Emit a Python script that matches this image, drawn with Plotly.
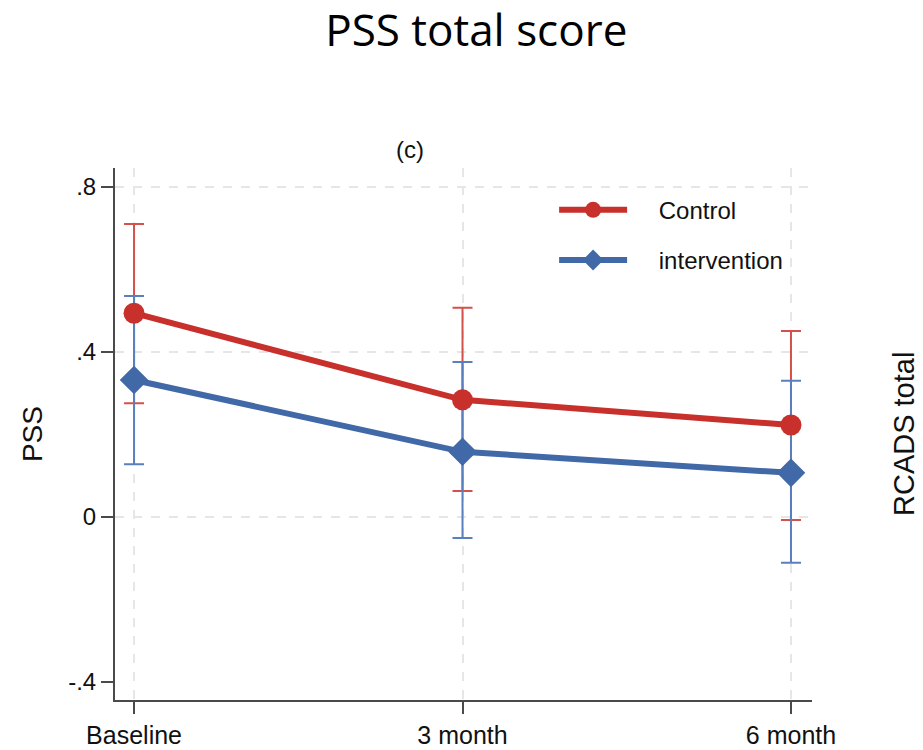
import plotly.graph_objects as go

# ---- data ----
timepoints = ["Baseline", "3 month", "6 month"]
control_mean = [0.494, 0.284, 0.223]
control_lo = [0.276, 0.063, -0.007]
control_hi = [0.710, 0.507, 0.451]
interv_mean = [0.332, 0.158, 0.107]
interv_lo = [0.128, -0.051, -0.111]
interv_hi = [0.536, 0.376, 0.330]
ytick_vals = [-0.4, 0, 0.4, 0.8]
ytick_text = ["-.4", "0", ".4", ".8"]
series_names = ["Control", "intervention"]

RED = "#c8302c"
RED_EB = "#d4504b"
BLUE = "#4169a8"
BLUE_EB = "#5a7fbe"
FONT = "Liberation Sans, Arial, sans-serif"
PAD = "\u00a0" * 4

def plus(hi, m):
    return [h - v for h, v in zip(hi, m)]

def minus(lo, m):
    return [v - l for l, v in zip(lo, m)]

fig = go.Figure()

# error bars (drawn first, under the lines)
fig.add_trace(go.Scatter(
    x=timepoints, y=control_mean, mode="markers",
    marker=dict(size=1, opacity=0), showlegend=False, hoverinfo="skip",
    error_y=dict(type="data", symmetric=False,
                 array=plus(control_hi, control_mean),
                 arrayminus=minus(control_lo, control_mean),
                 color=RED_EB, thickness=2, width=10)))
fig.add_trace(go.Scatter(
    x=timepoints, y=interv_mean, mode="markers",
    marker=dict(size=1, opacity=0), showlegend=False, hoverinfo="skip",
    error_y=dict(type="data", symmetric=False,
                 array=plus(interv_hi, interv_mean),
                 arrayminus=minus(interv_lo, interv_mean),
                 color=BLUE_EB, thickness=2, width=10)))

# lines with markers
fig.add_trace(go.Scatter(
    x=timepoints, y=interv_mean, mode="lines+markers", name=PAD + series_names[1],
    line=dict(color=BLUE, width=6),
    marker=dict(symbol="diamond", size=22, color=BLUE),
    legendgroup="b", legendrank=2))
fig.add_trace(go.Scatter(
    x=timepoints, y=control_mean, mode="lines+markers", name=PAD + series_names[0],
    line=dict(color=RED, width=6),
    marker=dict(symbol="circle", size=21, color=RED),
    legendgroup="a", legendrank=1))

# grid-only overlay axis (no grid at -.4)
fig.add_trace(go.Scatter(x=[timepoints[0]], y=[None], yaxis="y2",
                         showlegend=False, hoverinfo="skip"))

fig.update_layout(
    width=923, height=750,
    margin=dict(l=115, r=111, t=168, b=50, autoexpand=False),
    paper_bgcolor="white", plot_bgcolor="white",
    font=dict(family=FONT, color="#111", size=24),
    title=dict(text="PSS total score", x=0.516, xanchor="center",
               y=0.959, yanchor="middle",
               font=dict(family="Open Sans, sans-serif", size=44, color="black")),
    xaxis=dict(
        type="category", categoryorder="array", categoryarray=timepoints,
        range=[-0.058, 2.064], automargin=False,
        showline=True, linecolor="#4a4a4a", linewidth=2,
        ticks="outside", ticklen=12, tickwidth=2, tickcolor="#4a4a4a",
        showgrid=True, gridcolor="#e6e6e6", gridwidth=2, griddash="dash",
        zeroline=False, tickfont=dict(size=25, color="#111"),
    ),
    yaxis=dict(
        range=[-0.4436, 0.846], automargin=False,
        tickvals=ytick_vals, ticktext=ytick_text,
        showline=True, linecolor="#4a4a4a", linewidth=2,
        ticks="outside", ticklen=12, tickwidth=2, tickcolor="#4a4a4a",
        showgrid=False, zeroline=False, tickfont=dict(size=24, color="#111"),
    ),
    yaxis2=dict(
        overlaying="y", range=[-0.4436, 0.846], tickvals=[0, 0.4, 0.8],
        showticklabels=False, showgrid=True, gridcolor="#e6e6e6",
        gridwidth=2, griddash="dash", zeroline=False, showline=False,
        automargin=False,
    ),
    legend=dict(
        x=0.63, y=0.963, xanchor="left", yanchor="top",
        bgcolor="rgba(0,0,0,0)", borderwidth=0,
        font=dict(size=24, color="#111"), itemwidth=68,
        tracegroupgap=16, traceorder="grouped",
    ),
    annotations=[
        dict(text="(c)", x=0.423, y=1.034, xref="paper", yref="paper",
             xanchor="center", yanchor="middle",
             showarrow=False, font=dict(size=24, color="#111")),
        dict(text="PSS", x=-0.119, y=0.5, xref="paper", yref="paper",
             xanchor="center", yanchor="middle",
             showarrow=False, textangle=-90, font=dict(size=28, color="#111")),
        dict(text="RCADS total", x=1.132, y=0.5, xref="paper", yref="paper",
             xanchor="center", yanchor="middle",
             showarrow=False, textangle=-90, font=dict(size=29, color="#111")),
    ],
    showlegend=True,
)

fig.write_html("out.html")
